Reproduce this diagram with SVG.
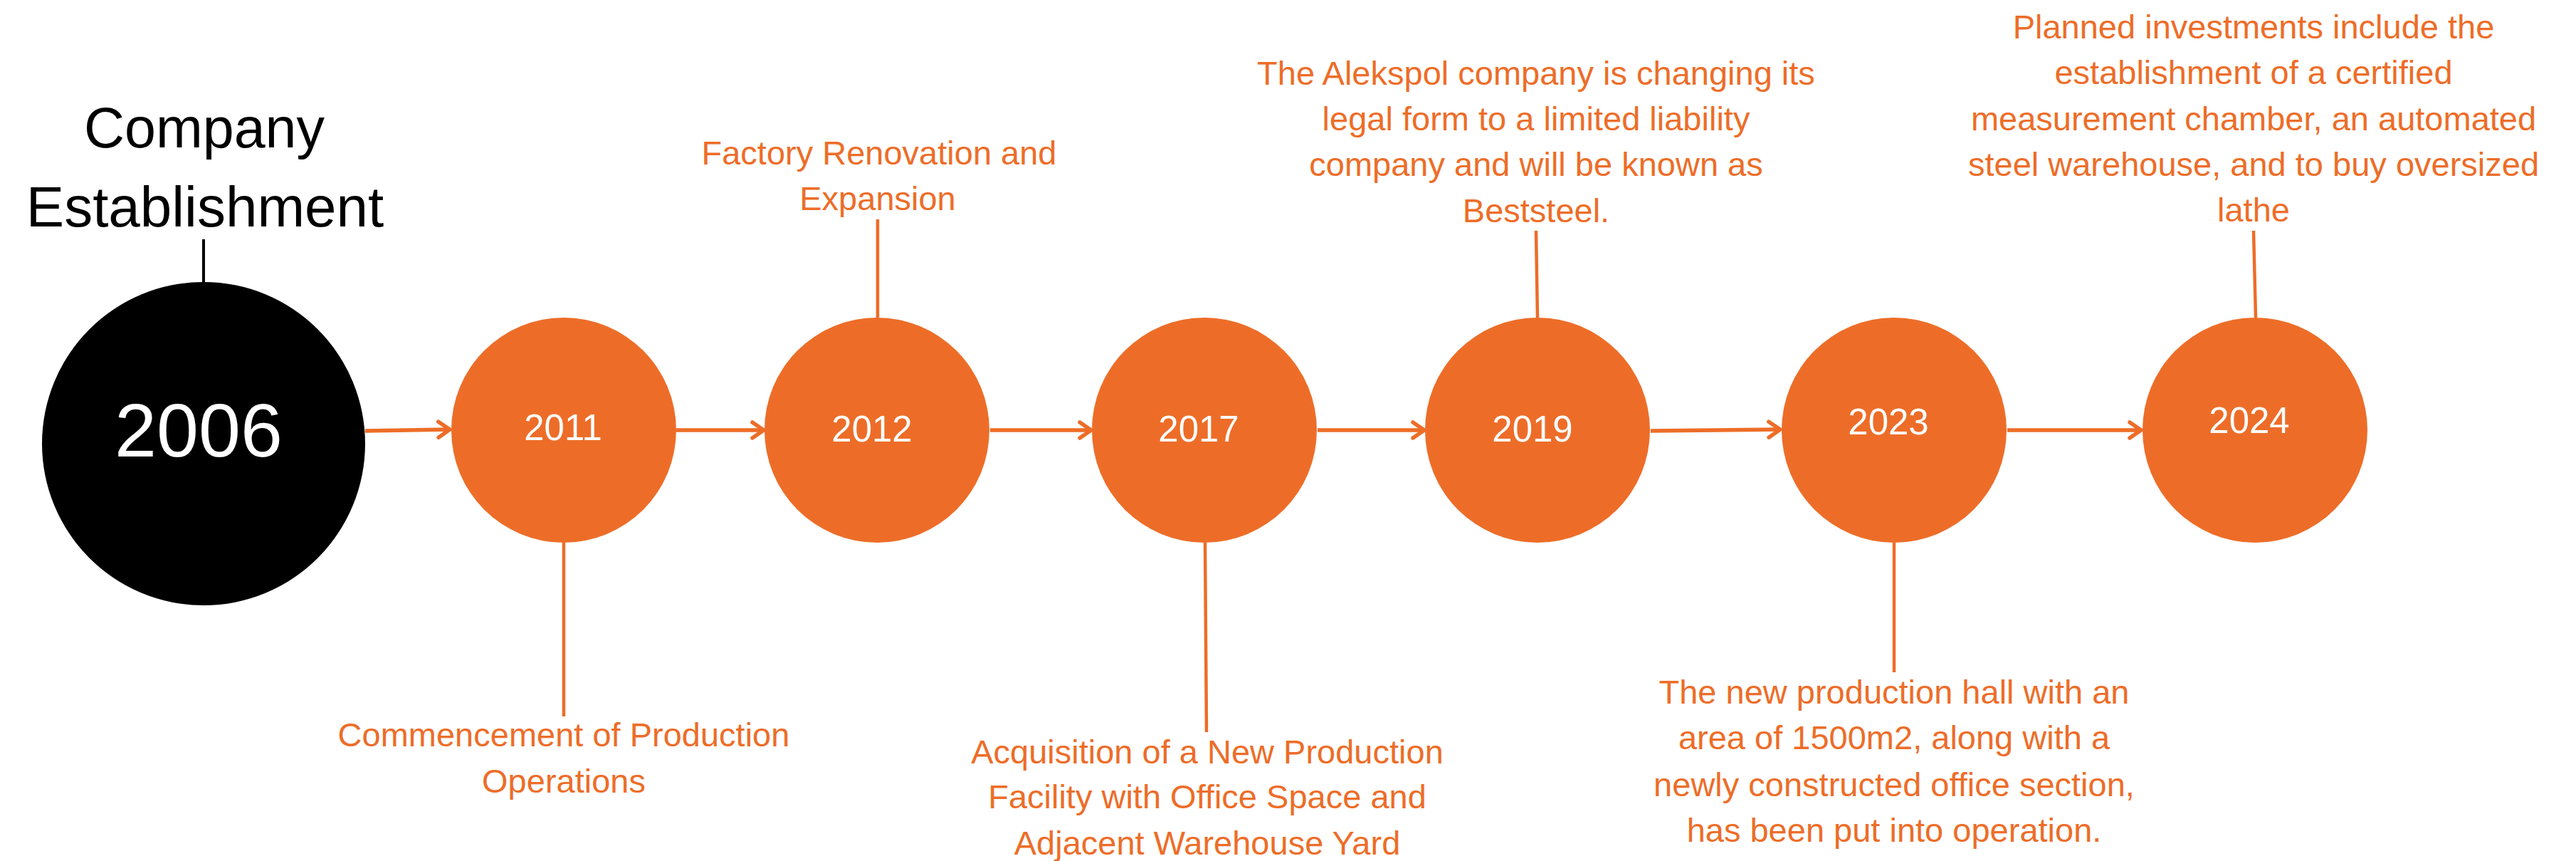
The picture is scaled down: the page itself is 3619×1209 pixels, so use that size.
<svg xmlns="http://www.w3.org/2000/svg" width="3619" height="1209" viewBox="0 0 3619 1209">
<style>
.dot{fill:#ED6D28}
.yr{font-family:"Liberation Sans",Arial,sans-serif;font-size:51px;fill:#ffffff;text-anchor:middle}
.lbl{font-family:"Liberation Sans",Arial,sans-serif;font-size:47px;fill:#ED6D28;text-anchor:middle}
.tick{stroke:#ED6D28;stroke-width:4.5;fill:none}
.arrow{stroke:#ED6D28;stroke-width:5.5;fill:none;marker-end:url(#arr)}
</style>
<defs>
<marker id="arr" markerUnits="userSpaceOnUse" markerWidth="40" markerHeight="40" viewBox="-25 -20 40 40" refX="0" refY="0" orient="auto" overflow="visible">
<path d="M-16,-11 L0,0 L-16,11" fill="none" stroke="#ED6D28" stroke-width="5.5" stroke-linecap="round" stroke-linejoin="round"/>
</marker>
</defs>
<rect width="3619" height="1209" fill="#ffffff"/>
<g id="connectors">
<line x1="286" y1="336" x2="286" y2="397" stroke="#000000" stroke-width="4"/>
<line class="arrow" x1="513" y1="605" x2="632" y2="603"/>
<line class="arrow" x1="950" y1="604" x2="1073" y2="604"/>
<line class="arrow" x1="1391" y1="604" x2="1533" y2="604"/>
<line class="arrow" x1="1851" y1="604" x2="2001" y2="604"/>
<line class="arrow" x1="2319" y1="605" x2="2501" y2="603"/>
<line class="arrow" x1="2820" y1="604" x2="3008" y2="604"/>
<line class="tick" x1="792" y1="762" x2="792" y2="1006"/>
<line class="tick" x1="1233" y1="308" x2="1233" y2="446"/>
<line class="tick" x1="1693" y1="762" x2="1695" y2="1028"/>
<line class="tick" x1="2158" y1="324" x2="2160" y2="446"/>
<line class="tick" x1="2661" y1="762" x2="2661" y2="944"/>
<line class="tick" x1="3166" y1="324" x2="3169" y2="446"/>
</g>
<g id="node-2006">
<circle cx="286" cy="623" r="227" fill="#000000"/>
<text x="279" y="641" font-family="Liberation Sans, Arial, sans-serif" font-size="106" fill="#ffffff" text-anchor="middle">2006</text>
<text x="287" y="207" font-family="Liberation Sans, Arial, sans-serif" font-size="79" fill="#000000" text-anchor="middle">Company</text>
<text x="288" y="318" font-family="Liberation Sans, Arial, sans-serif" font-size="80" fill="#000000" text-anchor="middle">Establishment</text>
</g>
<g id="node-2011">
<circle class="dot" cx="792" cy="604" r="158"/>
<text class="yr" x="791" y="618">2011</text>
<text class="lbl" x="792" y="1048">Commencement of Production</text>
<text class="lbl" x="792" y="1113">Operations</text>
</g>
<g id="node-2012">
<circle class="dot" cx="1232" cy="604" r="158"/>
<text class="yr" x="1225" y="620">2012</text>
<text class="lbl" x="1235" y="231">Factory Renovation and</text>
<text class="lbl" x="1233" y="295">Expansion</text>
</g>
<g id="node-2017">
<circle class="dot" cx="1692" cy="604" r="158"/>
<text class="yr" x="1684" y="620">2017</text>
<text class="lbl" x="1696" y="1072">Acquisition of a New Production</text>
<text class="lbl" x="1696" y="1135">Facility with Office Space and</text>
<text class="lbl" x="1696" y="1200">Adjacent Warehouse Yard</text>
</g>
<g id="node-2019">
<circle class="dot" cx="2160" cy="604" r="158"/>
<text class="yr" x="2153" y="620">2019</text>
<text class="lbl" x="2158" y="119">The Alekspol company is changing its</text>
<text class="lbl" x="2158" y="183">legal form to a limited liability</text>
<text class="lbl" x="2158" y="247">company and will be known as</text>
<text class="lbl" x="2158" y="312">Beststeel.</text>
</g>
<g id="node-2023">
<circle class="dot" cx="2661" cy="604" r="158"/>
<text class="yr" x="2653" y="610">2023</text>
<text class="lbl" x="2661" y="988">The new production hall with an</text>
<text class="lbl" x="2661" y="1052">area of 1500m2, along with a</text>
<text class="lbl" x="2661" y="1118">newly constructed office section,</text>
<text class="lbl" x="2661" y="1182">has been put into operation.</text>
</g>
<g id="node-2024">
<circle class="dot" cx="3168" cy="604" r="158"/>
<text class="yr" x="3160" y="608">2024</text>
<text class="lbl" x="3166" y="54">Planned investments include the</text>
<text class="lbl" x="3166" y="118">establishment of a certified</text>
<text class="lbl" x="3166" y="183">measurement chamber, an automated</text>
<text class="lbl" x="3166" y="247">steel warehouse, and to buy oversized</text>
<text class="lbl" x="3166" y="311">lathe</text>
</g>
</svg>
